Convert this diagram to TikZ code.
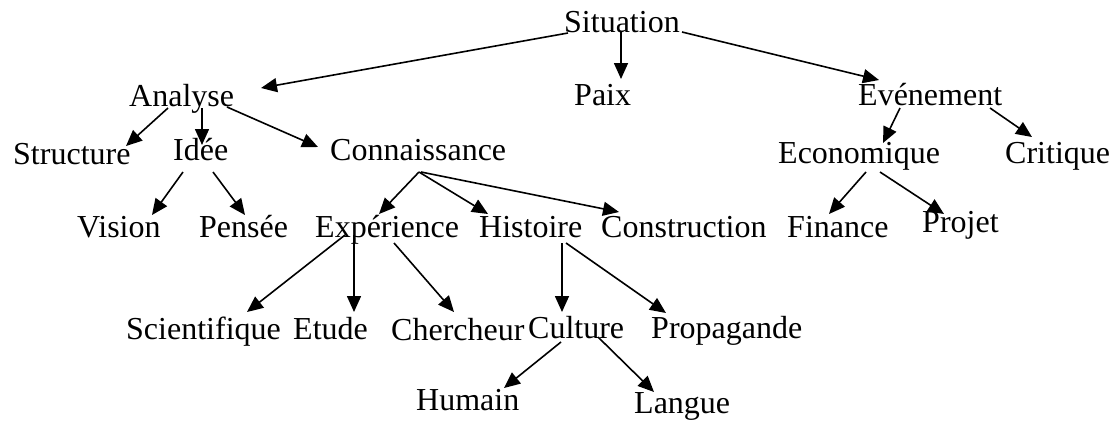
\documentclass[tikz,border=0pt]{standalone}
\usepackage{fontspec}
\setmainfont{Liberation Serif}
\usepackage{tikz}
\usetikzlibrary{
    arrows.meta,
    calc
}

\begin{document}
\begin{tikzpicture}[x=1pt,y=-1pt,
    lbl/.style={anchor=base west, inner sep=0pt, font=\fontsize{32}{36}\selectfont},
    arr/.style={-{Triangle[length=16pt,width=14pt]}, line width=1.6pt}]

\useasboundingbox (0,0) rectangle (1113,421);

% Words
\node[lbl] (sit)  at (564,32)  {Situation};
\node[lbl] (ana)  at (129,106) {Analyse};
\node[lbl] (paix) at (574,105) {Paix};
\node[lbl] (eve)  at (858,105) {Événement};
\node[lbl] (str)  at (13,164)  {Structure};
\node[lbl] (idee) at (173,160) {Idée};
\node[lbl] (conn) at (330,160) {Connaissance};
\node[lbl] (eco)  at (778,163) {Economique};
\node[lbl] (crit) at (1005,163) {Critique};
\node[lbl] (vis)  at (77,237)  {Vision};
\node[lbl] (pen)  at (199,237) {Pensée};
\node[lbl] (exp)  at (315,237) {Expérience};
\node[lbl] (hist) at (479,237) {Histoire};
\node[lbl] (cons) at (601,237) {Construction};
\node[lbl] (fin)  at (787,237) {Finance};
\node[lbl] (proj) at (922,232) {Projet};
\node[lbl] (sci)  at (126,339) {Scientifique};
\node[lbl] (etu)  at (293,339) {Etude};
\node[lbl] (cher) at (391,340) {Chercheur};
\node[lbl] (cult) at (528,338) {Culture};
\node[lbl] (prop) at (651,338) {Propagande};
\node[lbl] (hum)  at (416,410) {Humain};
\node[lbl] (lang) at (634,413) {Langue};

% Situation
\draw[arr] ($(sit.base west)+(4,1)$) -- ($(ana.base west)+(132,-18)$);
\draw[arr] ($(sit.base west)+(57,0)$) -- ($(paix.base west)+(47,-26)$);
\draw[arr] ($(sit.base west)+(118,0)$) -- ($(eve.base west)+(21,-25)$);

% Analyse
\draw[arr] ($(ana.base west)+(39,2)$) -- ($(str.base west)+(113,-18)$);
\draw[arr] ($(ana.base west)+(73,2)$) -- ($(idee.base west)+(29,-15)$);
\draw[arr] ($(ana.base west)+(98,1)$) -- ($(conn.base west)+(-12,-13)$);

% Idee
\draw[arr] ($(idee.base west)+(10,12)$) -- ($(vis.base west)+(75,-22)$);
\draw[arr] ($(idee.base west)+(40,12)$) -- ($(pen.base west)+(46,-22)$);

% Connaissance
\draw[arr] ($(conn.base west)+(89,12)$) -- ($(exp.base west)+(64,-23)$);
\draw[arr] ($(conn.base west)+(89,12)$) -- ($(hist.base west)+(9,-23)$);
\draw[arr] ($(conn.base west)+(91,12)$) -- ($(cons.base west)+(18,-25)$);

% Experience
\draw[arr] ($(exp.base west)+(30,-2)$) -- ($(sci.base west)+(121,-27)$);
\draw[arr] ($(exp.base west)+(39,-2)$) -- ($(etu.base west)+(61,-27)$);
\draw[arr] ($(exp.base west)+(79,6)$) -- ($(cher.base west)+(63,-28)$);

% Histoire
\draw[arr] ($(hist.base west)+(83,6)$) -- ($(cult.base west)+(34,-26)$);
\draw[arr] ($(hist.base west)+(87,6)$) -- ($(prop.base west)+(15,-25)$);

% Culture
\draw[arr] ($(cult.base west)+(33,4)$) -- ($(hum.base west)+(88,-22)$);
\draw[arr] ($(cult.base west)+(70,-1)$) -- ($(lang.base west)+(20,-21)$);

% Evenement
\draw[arr] ($(eve.base west)+(42,3)$) -- ($(eco.base west)+(105,-20)$);
\draw[arr] ($(eve.base west)+(132,3)$) -- ($(crit.base west)+(27,-26)$);

% Economique
\draw[arr] ($(eco.base west)+(88,9)$) -- ($(fin.base west)+(42,-23)$);
\draw[arr] ($(eco.base west)+(102,9)$) -- ($(proj.base west)+(22,-18)$);

\end{tikzpicture}
\end{document}
